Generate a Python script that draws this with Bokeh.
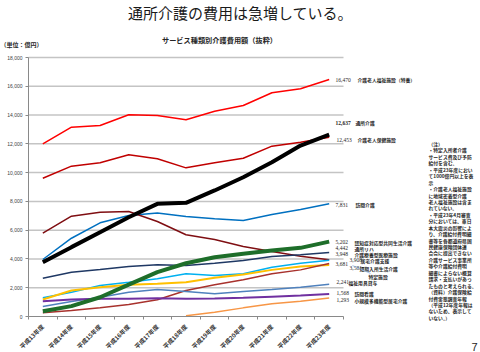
from bokeh.plotting import figure
from bokeh.models import Range1d, FixedTicker, NumeralTickFormatter, Label, Arrow
from bokeh.embed import file_html
from bokeh.resources import INLINE
import math

# ---------------- data ----------------
years = ["平成13年度", "平成14年度", "平成15年度", "平成16年度", "平成17年度", "平成18年度",
         "平成19年度", "平成20年度", "平成21年度", "平成22年度", "平成23年度"]

tokuyo   = [12000, 13160, 13270, 14020, 13970, 13670, 14270, 14660, 15550, 15830, 16470]
roken    = [9610, 10450, 10680, 11240, 10960, 10330, 10680, 11000, 11840, 12110, 12453]
tsusho   = [3770, 4820, 5860, 6900, 7830, 7900, 8760, 9680, 10720, 11880, 12637]
homon    = [3960, 5440, 6510, 7020, 7200, 6950, 6790, 6670, 7090, 7440, 7831]
ryoyo    = [5790, 6970, 7250, 7300, 6600, 5680, 5350, 4870, 4520, 4190, 3948]
gh       = [370, 720, 1340, 2220, 3080, 3700, 4120, 4360, 4590, 4770, 5202]
rehab    = [2660, 3080, 3270, 3480, 3590, 3540, 3700, 3890, 4170, 4290, 4442]
kyotaku  = [1300, 1690, 2150, 2380, 2620, 2970, 2850, 2970, 3430, 3700, 3908]
tanki    = [1180, 1810, 2040, 2200, 2270, 2380, 2690, 2920, 3240, 3480, 3581]
tokutei  = [260, 420, 600, 830, 1160, 1810, 2200, 2550, 2970, 3240, 3681]
fukushi  = [700, 1040, 1340, 1690, 1880, 1740, 1580, 1740, 1880, 2040, 2241]
kango    = [1060, 1180, 1230, 1230, 1270, 1230, 1250, 1300, 1380, 1460, 1568]
shokibo  = [None, None, None, None, None, 50, 300, 600, 880, 1060, 1293]

names = {
    "tokuyo": "介護老人福祉施設（特養）", "roken": "介護老人保健施設", "tsusho": "通所介護",
    "homon": "訪問介護", "ryoyo": "介護療養型医療施設", "gh": "認知症対応型共同生活介護",
    "rehab": "通所リハ", "kyotaku": "居宅介護支援", "tanki": "短期入所生活介護",
    "tokutei": "特定施設", "fukushi": "福祉用具貸与", "kango": "訪問看護",
    "shokibo": "小規模多機能型居宅介護",
}

y_ticks = [0, 2000, 4000, 6000, 8000, 10000, 12000, 14000, 16000, 18000]

title_text = "通所介護の費用は急増している。"
subtitle_text = "サービス種類別介護費用額（抜粋）"
unit_text = "（単位：億円）"
notes = ["（注）", "・特定入所者介護", "サービス費及び予防", "給付を含む。", "・平成23年度におい",
         "て1000億円以上を表", "示", "・介護老人福祉施設", "に地域密着型介護", "老人福祉施設は含ま",
         "れていない。", "・平成23年4月審査", "分においては、東日", "本大震災の影響によ",
         "り、介護給付費明細", "書等を各都道府県国", "民健康保険団体連", "合会に提出できない",
         "介護サービス事業所", "等や介護給付費明", "細書によらない概算", "請求・支払いがあっ",
         "たものと考えられる。", "（資料）介護保険給", "付費実態調査年報", "（平成12年度年報は",
         "ないため、表示して", "いない。）"]
page_no = "7"

# ---------------- layout ----------------
W, H = 480, 352
PL, PR, PT, PB = 28, 343, 57, 316          # plot area on the page (px)
NX = len(years)
YMAX = 18000
kx = NX / (PR - PL)                         # data per px
ky = YMAX / (PB - PT)

p = figure(width=W, height=H,
           x_range=Range1d(-PL * kx, (W - PL) * kx),
           y_range=Range1d(-(H - PB) * ky, YMAX + PT * ky),
           output_backend="svg", toolbar_location=None,
           min_border=0, min_border_left=0, min_border_right=0,
           min_border_top=0, min_border_bottom=0)
p.outline_line_color = None
p.background_fill_color = "white"
p.border_fill_color = "white"
p.xgrid.visible = False
p.ygrid.visible = False

xs = [i + 0.5 for i in range(NX)]

# x axis (fixed at y = 0 inside the full-canvas frame)
p.xaxis.fixed_location = 0
p.xaxis.bounds = (0, NX)
p.xaxis.ticker = FixedTicker(ticks=xs, minor_ticks=list(range(NX + 1)))
p.xaxis.major_label_overrides = {x: y for x, y in zip(xs, years)}
p.xaxis.major_label_orientation = math.pi / 4
p.xaxis.major_tick_line_color = None
p.xaxis.minor_tick_in = 0
p.xaxis.minor_tick_out = 3
p.xaxis.minor_tick_line_color = "#898989"
p.xaxis.axis_line_color = "#898989"
p.xaxis.major_label_text_font = "Noto Sans CJK JP"
p.xaxis.major_label_text_font_size = "6px"
p.xaxis.major_label_text_font_style = "bold"
p.xaxis.major_label_text_color = "#333333"
p.xaxis.major_label_standoff = 3

# y axis (fixed at x = 0)
p.yaxis.fixed_location = 0
p.yaxis.bounds = (0, YMAX)
p.yaxis.ticker = FixedTicker(ticks=y_ticks)
p.yaxis.formatter = NumeralTickFormatter(format="0,0")
p.yaxis.major_tick_in = 0
p.yaxis.major_tick_out = 3
p.yaxis.minor_tick_line_color = None
p.yaxis.major_tick_line_color = "#898989"
p.yaxis.axis_line_color = "#898989"
p.yaxis.major_label_text_font = "Liberation Sans"
p.yaxis.major_label_text_font_size = "5px"
p.yaxis.major_label_text_color = "#404040"
p.yaxis.major_label_standoff = 3

# horizontal gridlines across the plot area only
grid_y = [t for t in y_ticks if t > 0]
p.segment(x0=[0] * len(grid_y), y0=grid_y, x1=[NX] * len(grid_y), y1=grid_y,
          line_color="#C4C4C4", line_width=1.5)

nan = float("nan")
def clean(v):
    return [nan if a is None else a for a in v]

series = [
    ("tokuyo", tokuyo, "#FF0000", 1.5),
    ("roken", roken, "#C00000", 1.5),
    ("homon", homon, "#0070C0", 1.5),
    ("ryoyo", ryoyo, "#7F0E12", 1.5),
    ("rehab", rehab, "#1F3864", 1.5),
    ("kyotaku", kyotaku, "#00B0F0", 1.5),
    ("tanki", tanki, "#FFC000", 2.0),
    ("tokutei", tokutei, "#A8322D", 1.5),
    ("fukushi", fukushi, "#4F81BD", 1.5),
    ("kango", kango, "#7030A0", 2.0),
    ("shokibo", shokibo, "#F79646", 1.5),
    ("gh", gh, "#1E6E2A", 4.0),
    ("tsusho", tsusho, "#000000", 4.0),
]
for key, vals, col, lw in series:
    p.line(xs, clean(vals), line_color=col, line_width=lw)

# page coordinates -> screen units (frame covers the whole canvas, origin bottom-left)
def sx(px):
    return px
def sy(py):
    return H - py

# ---- end labels: (key, value page x, value page y, name page x, name page y, bold)
label_pos = [
    ("tokuyo", 335, 79, 357, 79, False),
    ("tsusho", 335, 122, 355, 122, True),
    ("roken", 336, 139, 357, 139, False),
    ("homon", 335, 204, 355, 204, False),
    ("gh", 335, 241.5, 354, 241.5, False),
    ("rehab", 335, 247.5, 354, 247.5, False),
    ("ryoyo", 335, 253.5, 354, 253.5, False),
    ("kyotaku", 349, 259.5, 360, 259.5, False),
    ("tokutei", 335, 263.5, 368, 275.5, False),
    ("tanki", 349, 267.5, 359, 267.5, False),
    ("fukushi", 336, 281.5, 348, 281.5, False),
    ("kango", 336, 292.5, 354, 292.5, False),
    ("shokibo", 336, 299.5, 354, 299.5, False),
]
vals_by_key = {k: v for k, v, c, lw in series}
for key, vx, vy, nx, ny, bold in label_pos:
    last = vals_by_key[key][-1]
    p.add_layout(Label(x=sx(vx), y=sy(vy), x_units="screen", y_units="screen",
                       text=f"{last:,}", text_font="Liberation Serif", text_font_size="5.5px",
                       text_font_style="bold" if bold else "normal",
                       text_color="#262626", text_baseline="middle"))
    p.add_layout(Label(x=sx(nx), y=sy(ny), x_units="screen", y_units="screen",
                       text=names[key], text_font="Noto Sans CJK JP", text_font_size="4.8px",
                       text_font_style="bold", text_color="#262626", text_baseline="middle"))

# connector for 特定施設
p.add_layout(Arrow(end=None, x_start=sx(352), y_start=sy(265), x_end=sx(370), y_end=sy(273),
                   start_units="screen", end_units="screen",
                   line_color="#8EB4E3", line_width=0.8))

# titles
p.add_layout(Label(x=sx(240), y=sy(12), x_units="screen", y_units="screen", text=title_text,
                   text_font="Noto Sans CJK JP", text_font_size="15px", text_color="#1a1a1a",
                   text_align="center", text_baseline="middle"))
p.add_layout(Label(x=sx(219), y=sy(39), x_units="screen", y_units="screen", text=subtitle_text,
                   text_font="Noto Sans CJK JP", text_font_size="7.2px", text_font_style="bold",
                   text_color="#262626", text_align="center", text_baseline="middle"))
p.add_layout(Label(x=sx(0), y=sy(43.5), x_units="screen", y_units="screen", text=unit_text,
                   text_font="Noto Sans CJK JP", text_font_size="6px", text_font_style="bold",
                   text_color="#262626", text_align="left", text_baseline="middle"))

# notes
for i, line in enumerate(notes):
    p.add_layout(Label(x=sx(428), y=sy(143 + i * 6.44), x_units="screen", y_units="screen",
                       text=line, text_font="Noto Sans CJK JP", text_font_size="4.8px",
                       text_font_style="bold", text_color="#262626", text_baseline="middle"))

p.add_layout(Label(x=sx(474), y=sy(346), x_units="screen", y_units="screen", text=page_no,
                   text_font="Liberation Sans", text_font_size="11px", text_color="#262626",
                   text_align="center", text_baseline="middle"))

open("out.html", "w").write(file_html(p, INLINE))
